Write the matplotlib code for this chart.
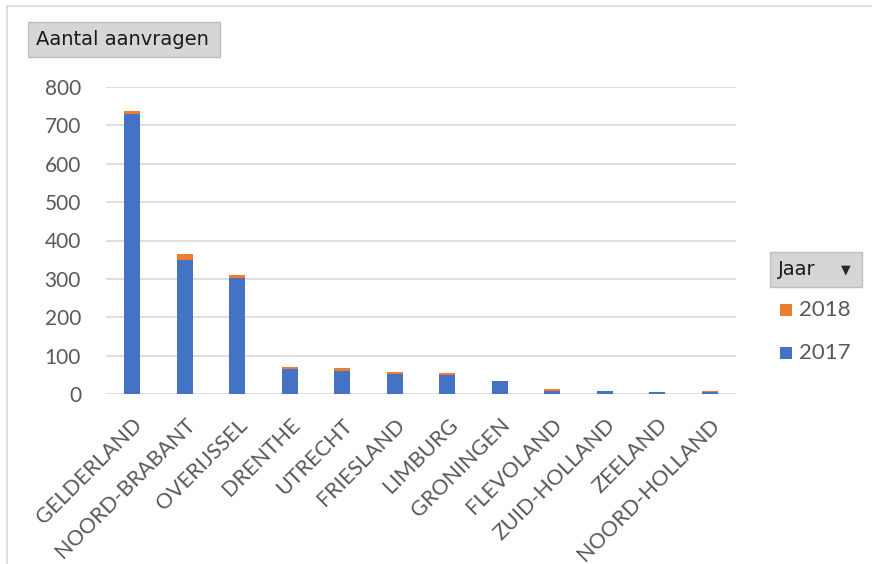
import matplotlib.pyplot as plt
from matplotlib.patches import Rectangle, FancyBboxPatch
import numpy as np

provinces = ["GELDERLAND", "NOORD-BRABANT", "OVERIJSSEL", "DRENTHE", "UTRECHT",
             "FRIESLAND", "LIMBURG", "GRONINGEN", "FLEVOLAND", "ZUID-HOLLAND",
             "ZEELAND", "NOORD-HOLLAND"]
v2017 = [730, 350, 303, 65, 61, 53, 49, 34, 8, 9, 5, 5]
v2018 = [8, 14, 8, 5, 6, 5, 6, 0, 5, 0, 0, 4]
yticks = [0, 100, 200, 300, 400, 500, 600, 700, 800]

blue = "#4472C4"
orange = "#ED7D31"
grey_txt = "#595959"

plt.rcParams['font.family'] = ['Lato', 'DejaVu Sans']

fig = plt.figure(figsize=(8.72, 5.64), dpi=100)
W, H = 872, 564

# outer chart frame
fig.patches.append(Rectangle((7 / W, -0.1), 1.2, (564 - 6) / H + 0.1,
                             transform=fig.transFigure, fill=False,
                             edgecolor="#D9D9D9", lw=1.2))

ax = fig.add_axes([106 / W, (H - 394) / H, 630 / W, (394 - 87) / H])
x = np.arange(len(provinces))
ax.bar(x, v2017, width=0.3, color=blue, zorder=3)
ax.bar(x, v2018, width=0.3, bottom=v2017, color=orange, zorder=3)

ax.set_xlim(-0.5, len(provinces) - 0.5)
ax.set_ylim(0, 800)
ax.set_yticks(yticks)
ax.yaxis.grid(True, color="#D9D9D9", lw=1.2, zorder=0)
for s in ax.spines.values():
    s.set_visible(False)
ax.tick_params(length=0)
ax.tick_params(axis='y', labelsize=15, labelcolor=grey_txt, pad=18)
ax.set_xticks(x)
ax.set_xticklabels(provinces, rotation=45, ha='right', rotation_mode='anchor',
                   fontsize=15.5, color=grey_txt)
ax.tick_params(axis='x', pad=15)

# field buttons
def button(x0, y0, w, h, label, arrow=False):
    fig.patches.append(FancyBboxPatch((x0 / W, 1 - (y0 + h) / H), w / W, h / H,
                                      boxstyle="square,pad=0",
                                      transform=fig.transFigure,
                                      facecolor="#D6D6D6", edgecolor="#BFBFBF", lw=1))
    fig.text((x0 + 8) / W, 1 - (y0 + h / 2) / H, label, fontsize=14,
             color="#1A1A1A", va='center', ha='left', family=['DejaVu Sans'])
    if arrow:
        fig.text((x0 + w - 16) / W, 1 - (y0 + h / 2) / H, "\u25BC", fontsize=9,
                 color="#262626", va='center', ha='center', family=['DejaVu Sans'])

button(28, 22, 192, 35, "Aantal aanvragen")
button(770, 252, 92, 35, "Jaar", arrow=True)

# legend
for y, col, lab in [(310, orange, "2018"), (353, blue, "2017")]:
    fig.patches.append(Rectangle((780 / W, 1 - (y + 6) / H), 12 / W, 12 / H,
                                 transform=fig.transFigure, facecolor=col,
                                 edgecolor='none'))
    fig.text(799 / W, 1 - y / H, lab, fontsize=16, color=grey_txt,
             va='center', ha='left')

fig.savefig("out.png", dpi=100)
